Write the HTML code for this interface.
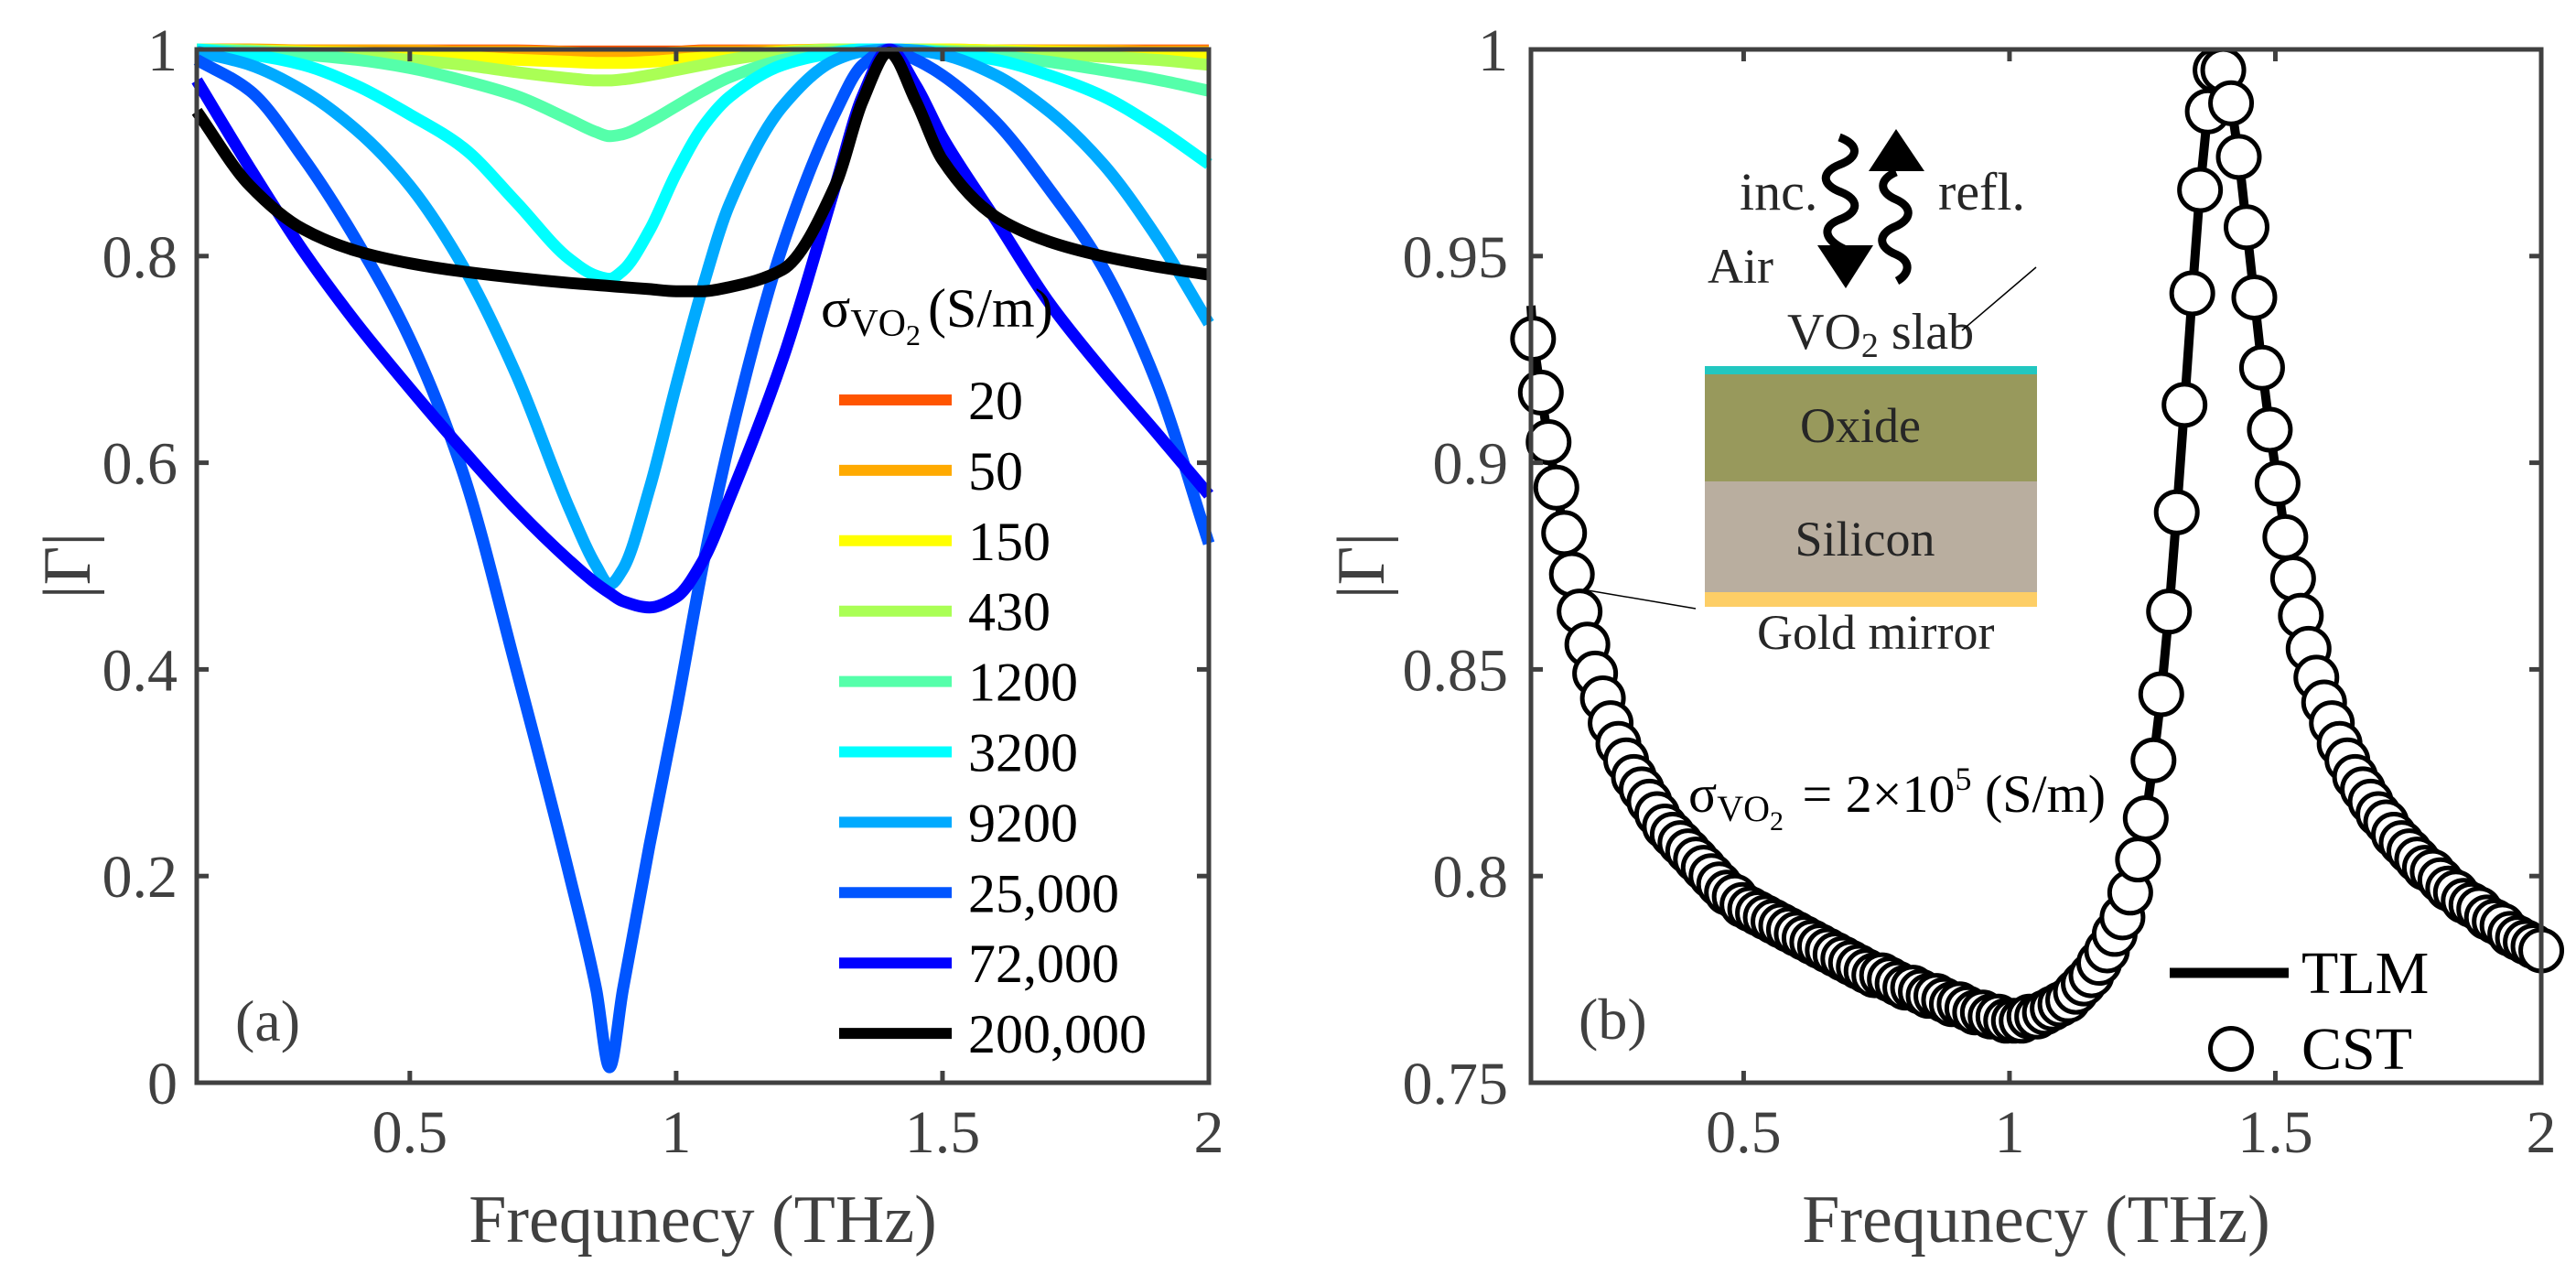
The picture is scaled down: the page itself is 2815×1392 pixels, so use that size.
<!DOCTYPE html>
<html><head><meta charset="utf-8"><style>
html,body{margin:0;padding:0;background:#fff;}
svg{display:block;font-family:"Liberation Serif","Times New Roman","DejaVu Serif",serif;}
text{font-family:"Liberation Serif","Times New Roman","DejaVu Serif",serif;}
</style></head><body>
<svg id="fig" width="2815" height="1392" viewBox="0 0 2815 1392" xmlns="http://www.w3.org/2000/svg" font-family="Liberation Serif, Times New Roman, serif">
<g id="panelA"></g>
<g id="panelB"></g>
</svg>
<script>
// ---------- Panel (a) data ----------
const freqA = [0.1,0.2,0.3,0.4,0.5,0.6,0.7,0.8,0.85,0.875,0.9,0.95,1.0,1.05,1.1,1.2,1.3,1.35,1.4,1.45,1.5,1.6,1.7,1.8,1.9,2.0];
const sigmaLabels = ["20","50","150","430","1200","3200","9200","25,000","72,000","200,000"];
const sigmaColors = ["#ff5500","#ffaa00","#ffff00","#aaff55","#55ffaa","#00ffff","#00aaff","#0055ff","#0000ff","#000000"];
const g20 = [0.999,0.999,0.999,0.999,0.999,0.999,0.999,0.998,0.998,0.998,0.998,0.998,0.998,0.999,0.999,0.999,0.999,0.999,0.999,0.999,0.999,0.999,0.999,0.999,0.999,0.999];
const g50 = [1,1,0.999,0.999,0.999,0.998,0.998,0.997,0.996,0.996,0.996,0.996,0.997,0.998,0.998,0.999,1,1,1,1,1,0.999,0.999,0.999,0.998,0.998];
const g150 = [1,0.999,0.998,0.997,0.995,0.993,0.99,0.988,0.987,0.987,0.987,0.988,0.99,0.992,0.994,0.998,1,1,1,1,1,0.999,0.998,0.997,0.996,0.994];
const g430 = [1,0.999,0.997,0.994,0.99,0.985,0.978,0.972,0.970,0.970,0.971,0.975,0.98,0.985,0.99,0.997,1,1,1,1,0.999,0.998,0.996,0.993,0.99,0.985];
const g1200 = [1,0.998,0.995,0.99,0.982,0.97,0.955,0.932,0.92,0.916,0.918,0.93,0.945,0.96,0.973,0.99,0.998,1,1,0.999,0.998,0.994,0.988,0.98,0.971,0.96];
const g3200 = [1,0.995,0.985,0.965,0.937,0.905,0.852,0.797,0.781,0.778,0.786,0.825,0.88,0.925,0.954,0.985,0.997,1,1,0.999,0.997,0.99,0.975,0.955,0.925,0.889];
const g9200 = [0.998,0.985,0.96,0.922,0.868,0.79,0.685,0.555,0.500,0.482,0.497,0.575,0.675,0.77,0.85,0.945,0.99,0.998,1,0.999,0.995,0.975,0.94,0.89,0.82,0.735];
const g25000 = [0.99,0.96,0.895,0.815,0.72,0.59,0.40,0.20,0.09,0.015,0.09,0.23,0.36,0.50,0.62,0.81,0.94,0.985,1,0.99,0.975,0.93,0.865,0.79,0.68,0.522];
const g72000 = [0.97,0.885,0.805,0.735,0.672,0.612,0.555,0.505,0.483,0.474,0.466,0.460,0.470,0.505,0.565,0.70,0.87,0.955,1,0.965,0.915,0.835,0.755,0.69,0.63,0.569];
const g200000 = [0.94,0.868,0.826,0.805,0.793,0.785,0.779,0.774,0.772,0.771,0.770,0.768,0.766,0.766,0.770,0.787,0.87,0.95,0.997,0.95,0.893,0.838,0.814,0.80,0.79,0.782];
const seriesA = [g20,g50,g150,g430,g1200,g3200,g9200,g25000,g72000,g200000];
const xTicks = [0.5,1,1.5,2];
const xTickLabels = ["0.5","1","1.5","2"];
const yTicksA = [0,0.2,0.4,0.6,0.8,1];
const yTickLabelsA = ["0","0.2","0.4","0.6","0.8","1"];

// ---------- Panel (b) data ----------
const cstStart = 0.104, cstStep = 0.014585;
const cstGamma = [0.930,0.917,0.905,0.894,0.883,0.873,0.864,0.856,0.849,0.843,
0.837,0.832,0.828,0.824,0.821,0.818,0.815,0.812,0.810,0.808,
0.806,0.804,0.802,0.800,0.798,0.796,0.795,0.793,0.792,0.791,
0.790,0.789,0.788,0.787,0.786,0.785,0.784,0.783,0.782,0.781,
0.780,0.779,0.778,0.777,0.776,0.776,0.775,0.774,0.773,0.773,
0.772,0.771,0.771,0.770,0.769,0.769,0.768,0.767,0.767,0.766,
0.766,0.765,0.765,0.765,0.766,0.766,0.767,0.768,0.769,0.770,
0.772,0.774,0.776,0.779,0.782,0.786,0.790,0.796,0.804,0.814,
0.828,0.844,0.864,0.888,0.914,0.941,0.966,0.985,0.995,0.995,
0.987,0.974,0.957,0.940,0.923,0.908,0.895,0.882,0.872,0.863,
0.855,0.848,0.842,0.837,0.832,0.828,0.824,0.821,0.818,0.815,
0.813,0.810,0.808,0.806,0.804,0.802,0.801,0.799,0.797,0.796,
0.794,0.793,0.792,0.790,0.789,0.788,0.786,0.785,0.784,0.783,0.782];
const tlmFirstFreq = [0.1];
const tlmFirstGamma = [0.938];
const yTicksB = [0.75,0.8,0.85,0.9,0.95,1];
const yTickLabelsB = ["0.75","0.8","0.85","0.9","0.95","1"];

const NS = "http://www.w3.org/2000/svg";
const FONT = "Liberation Serif, Times New Roman, DejaVu Serif, serif";
function mk(parent, tag, attrs, text){
  const e = document.createElementNS(NS, tag);
  for (const k in attrs) e.setAttribute(k, attrs[k]);
  if (tag === "text") e.setAttribute("font-family", FONT);
  if (text !== undefined) e.textContent = text;
  parent.appendChild(e);
  return e;
}
// monotone cubic (Fritsch-Butland) path in data space, mapped by xs/ys
function monoPath(xv, yv, xs, ys){
  const n = xv.length, h = [], d = [], m = [];
  for (let i=0;i<n-1;i++){ h[i]=xv[i+1]-xv[i]; d[i]=(yv[i+1]-yv[i])/h[i]; }
  m[0]=d[0]; m[n-1]=d[n-2];
  for (let i=1;i<n-1;i++){
    if (d[i-1]*d[i] <= 0) m[i]=0;
    else m[i] = 3*(h[i-1]+h[i])/((2*h[i]+h[i-1])/d[i-1] + (h[i]+2*h[i-1])/d[i]);
  }
  let s = "M"+xs(xv[0]).toFixed(1)+","+ys(yv[0]).toFixed(1);
  for (let i=0;i<n-1;i++){
    const c1x = xv[i]+h[i]/3, c1y = yv[i]+m[i]*h[i]/3;
    const c2x = xv[i+1]-h[i]/3, c2y = yv[i+1]-m[i+1]*h[i]/3;
    s += " C"+xs(c1x).toFixed(1)+","+ys(c1y).toFixed(1)+" "+xs(c2x).toFixed(1)+","+ys(c2y).toFixed(1)+" "+xs(xv[i+1]).toFixed(1)+","+ys(yv[i+1]).toFixed(1);
  }
  return s;
}
const AX = "#404040";
function drawAxes(g, L, R, T, B, xs, ys, yt, ytl, labelRight){
  const box = mk(g, "rect", {x:L, y:T, width:R-L, height:B-T, fill:"none", stroke:AX, "stroke-width":5});
  
  
  xTicks.forEach((t,i)=>{
    const x = xs(t);
    const tb = mk(g, "line", {x1:x, y1:B, x2:x, y2:B-13, stroke:AX, "stroke-width":5});
    
    
    const tt = mk(g, "line", {x1:x, y1:T, x2:x, y2:T+13, stroke:AX, "stroke-width":5});
    
    
    const lb = mk(g, "text", {x:x, y:1259, "text-anchor":"middle", "font-size":66, fill:AX}, xTickLabels[i]);
    
    
  });
  yt.forEach((t,i)=>{
    const y = ys(t);
    const tl = mk(g, "line", {x1:L, y1:y, x2:L+13, y2:y, stroke:AX, "stroke-width":5});
    
    
    const tr = mk(g, "line", {x1:R, y1:y, x2:R-13, y2:y, stroke:AX, "stroke-width":5});
    
    
    const lb = mk(g, "text", {x:labelRight, y:y+23, "text-anchor":"end", "font-size":66, fill:AX}, ytl[i]);
    
    
  });
  const xt = mk(g, "text", {x:(L+R)/2, y:1357, "text-anchor":"middle", "font-size":74, fill:AX}, "Frequnecy (THz)");
  
  
}

// ================= Panel A =================
(function(){
  const g = document.getElementById("panelA");
  const L=215, R=1321, T=54, B=1183;
  const xs = f => L + (f-0.1)/1.9*(R-L);
  const ys = v => B - v*(B-T);
  seriesA.forEach((vals,si)=>{
    const p = mk(g, "path", {d:monoPath(freqA, vals, xs, ys), fill:"none", stroke:sigmaColors[si], "stroke-width":13, "stroke-linejoin":"round"});
    
    
  });
  drawAxes(g, L, R, T, B, xs, ys, yTicksA, yTickLabelsA, 194);
  const yt = mk(g, "text", {x:0, y:0, transform:"translate(98,618) rotate(-90)", "text-anchor":"middle", "font-size":74, fill:AX}, "|Γ|");
  
  
  const pa = mk(g, "text", {x:257, y:1137, "font-size":64, fill:AX}, "(a)");
  
  
  const lg = mk(g, "g", {});
  
  
  const tt = mk(lg, "text", {x:897, y:357, "font-size":60, fill:"#000"});
  
  
  mk(tt, "tspan", {}, "σ");
  mk(tt, "tspan", {"font-size":42, dy:10}, "VO");
  mk(tt, "tspan", {"font-size":32, dy:10}, "2");
  mk(tt, "tspan", {"font-size":60, dy:-20, dx:8}, "(S/m)");
  sigmaLabels.forEach((lab,i)=>{
    const y = 437 + i*76.9;
    const ln = mk(lg, "line", {x1:917, y1:y, x2:1040, y2:y, stroke:sigmaColors[i], "stroke-width":12});
    
    
    const tx = mk(lg, "text", {x:1058, y:y+21, "font-size":60, fill:"#000"}, lab);
    
    
  });
})();

// ================= Panel B =================
(function(){
  const g = document.getElementById("panelB");
  const L=1673, R=2777, T=54, B=1183;
  const xs = f => L + (f-0.1)/1.9*(R-L);
  const ys = v => B - (v-0.75)/0.25*(B-T);
  const cstFreq = cstGamma.map((v,i)=>cstStart + i*cstStep);
  const tlmFreq = tlmFirstFreq.concat(cstFreq);
  const tlmGamma = tlmFirstGamma.concat(cstGamma);
  const tl = mk(g, "polyline", {points: tlmFreq.map((f,i)=>xs(f).toFixed(1)+","+ys(tlmGamma[i]).toFixed(1)).join(" "), fill:"none", stroke:"#000", "stroke-width":10, "stroke-linejoin":"round"});
  
  
  cstGamma.forEach((v,i)=>{
    const c = mk(g, "circle", {cx:xs(cstFreq[i]), cy:ys(v), r:22.5, fill:"#fff", stroke:"#000", "stroke-width":5});
    
    
  });
  drawAxes(g, L, R, T, B, xs, ys, yTicksB, yTickLabelsB, 1648);
  const yt = mk(g, "text", {x:0, y:0, transform:"translate(1512,618) rotate(-90)", "text-anchor":"middle", "font-size":74, fill:AX}, "|Γ|");
  
  
  const pb = mk(g, "text", {x:1725, y:1135, "font-size":64, fill:AX}, "(b)");
  
  
  const l1 = mk(g, "line", {x1:2371, y1:1063, x2:2501, y2:1063, stroke:"#000", "stroke-width":11});
  
  
  const t1 = mk(g, "text", {x:2515, y:1085, "font-size":66, fill:"#000"}, "TLM");
  
  
  const c1 = mk(g, "circle", {cx:2438, cy:1146, r:22.5, fill:"#fff", stroke:"#000", "stroke-width":5});
  
  
  const t2 = mk(g, "text", {x:2515, y:1168, "font-size":66, fill:"#000"}, "CST");
  
  
  const an = mk(g, "text", {x:1845, y:887, "font-size":58, fill:"#000"});
  
  
  mk(an, "tspan", {}, "σ");
  mk(an, "tspan", {"font-size":40, dy:10}, "VO");
  mk(an, "tspan", {"font-size":30, dy:10}, "2");
  mk(an, "tspan", {"font-size":58, dy:-20, dx:6}, " = 2×10");
  mk(an, "tspan", {"font-size":36, dy:-24}, "5");
  mk(an, "tspan", {"font-size":58, dy:24}, " (S/m)");
})();
</script>
<svg width="2815" height="1392" viewBox="0 0 2815 1392" font-family="Liberation Serif, Times New Roman, serif" style="position:absolute;left:0;top:0;">
  <rect x="1863" y="400" width="363" height="10" fill="#22c7c0"/>
  <rect x="1863" y="409" width="363" height="118" fill="#98995c"/>
  <rect x="1863" y="526" width="363" height="122" fill="#b9ae9f"/>
  <rect x="1863" y="647" width="363" height="16" fill="#fdce66"/>
  <text x="2033" y="483" font-size="54" text-anchor="middle" fill="#262626">Oxide</text>
  <text x="2038" y="607" font-size="54" text-anchor="middle" fill="#262626">Silicon</text>
  <text x="1920" y="709" font-size="54" fill="#262626">Gold mirror</text>
  <text x="1953" y="381" font-size="56" fill="#262626">VO<tspan font-size="38" dy="9">2</tspan><tspan dy="-9"> slab</tspan></text>
  <text x="1866" y="309" font-size="54" fill="#262626">Air</text>
  <text x="1901" y="229" font-size="58" fill="#262626">inc.</text>
  <text x="2118" y="229" font-size="58" fill="#262626">refl.</text>
  <line x1="2225" y1="292" x2="2144" y2="361" stroke="#000" stroke-width="1.5"/>
  <line x1="1735" y1="645" x2="1853" y2="665" stroke="#000" stroke-width="1.5"/>
  <path d="M2010,150 C2032,158 2032,172 2010,180 C1990,188 1990,202 2012,210 C2032,218 2032,232 2010,240 C1990,248 1994,262 2015,272" fill="none" stroke="#000" stroke-width="9"/>
  <polygon points="1986,268 2047,268 2017,315" fill="#000"/>
  <path d="M2072,188 C2053,196 2053,210 2072,218 C2090,226 2090,240 2070,248 C2052,256 2052,270 2072,278 C2090,286 2086,300 2073,307" fill="none" stroke="#000" stroke-width="9"/>
  <polygon points="2042,187 2103,187 2072,141" fill="#000"/>
</svg>
</body></html>
